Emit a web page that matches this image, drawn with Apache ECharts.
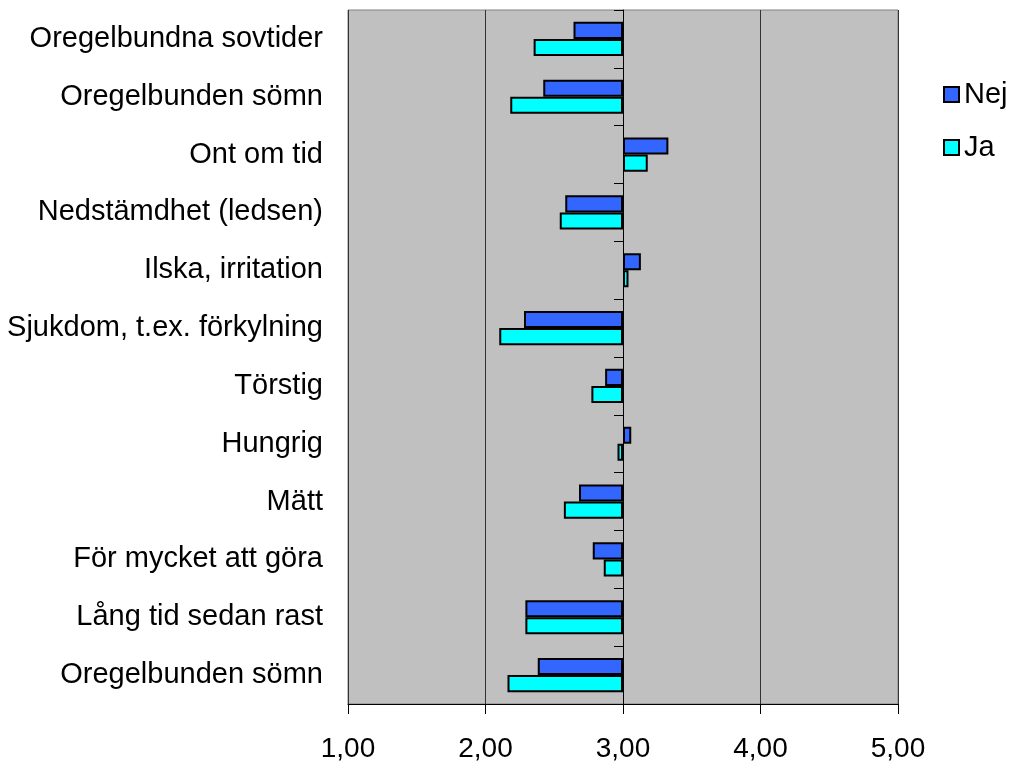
<!DOCTYPE html>
<html style="height: 100%">
<head>
  <meta charset="UTF-8">
  <title>ECharts</title>
  <script src="https://cdn.jsdelivr.net/npm/echarts/dist/echarts.min.js"></script>
</head>
<body style="height: 100%; margin: 0; background: #fff">
<div id="main" style="width: 1022px; height: 769px"></div>

<script>
  // categories, top to bottom
  const categories = [
    'Oregelbundna sovtider', 'Oregelbunden sömn', 'Ont om tid', 'Nedstämdhet (ledsen)',
    'Ilska, irritation', 'Sjukdom, t.ex. förkylning', 'Törstig', 'Hungrig',
    'Mätt', 'För mycket att göra', 'Lång tid sedan rast', 'Oregelbunden sömn'
  ];
  const nejValues = [2.64, 2.42, 3.33, 2.58, 3.13, 2.28, 2.87, 3.06, 2.68, 2.78, 2.29, 2.38];
  const jaValues = [2.35, 2.18, 3.18, 2.54, 3.04, 2.10, 2.77, 2.96, 2.57, 2.86, 2.29, 2.16];
  const baseline = 3;   // bars grow out from 3,00
  const xMin = 1, xMax = 5;

  // each bar = invisible stacked base + visible part
  const baseOf = arr => arr.map(v => Math.min(v, baseline));
  const lenOf = arr => arr.map(v => +Math.abs(v - baseline).toFixed(2));

  const gridLeft = 348, gridWidth = 550;
  const axisOffset = -(baseline - xMin) / (xMax - xMin) * gridWidth;

  const font = 'Liberation Sans, Arial, sans-serif';

  let option = {
    animation: false,
    grid: {
      left: gridLeft,
      top: 10,
      width: gridWidth,
      height: 694,
      show: true,
      backgroundColor: '#c0c0c0',
      borderColor: '#808080',
      borderWidth: 1
    },
    legend: {
      data: ['Nej', 'Ja'],
      orient: 'vertical',
      left: 943,
      top: 80,
      padding: 0,
      itemWidth: 15,
      itemHeight: 15,
      itemGap: 24,
      icon: 'rect',
      textStyle: { fontFamily: font, fontSize: 29, color: '#000' }
    },
    xAxis: {
      type: 'value',
      min: xMin,
      max: xMax,
      interval: 1,
      axisLine: { show: true, lineStyle: { color: '#000', width: 1 } },
      axisTick: { show: true, length: 10, lineStyle: { color: '#000' } },
      splitLine: { show: true, lineStyle: { color: '#333', width: 1 } },
      axisLabel: {
        margin: 31,
        fontFamily: font,
        fontSize: 28,
        color: '#000',
        formatter: v => v.toFixed(2).replace('.', ',')
      }
    },
    yAxis: [
      {
        type: 'category',
        data: categories,
        inverse: true,
        axisLine: { show: false },
        axisTick: { show: false },
        axisLabel: { margin: 25, fontFamily: font, fontSize: 29, color: '#000' }
      },
      {
        type: 'category',
        data: categories,
        inverse: true,
        position: 'left',
        offset: axisOffset,
        axisLine: { show: true, lineStyle: { color: '#000', width: 1 } },
        axisTick: { show: true, length: 9, lineStyle: { color: '#000' } },
        axisLabel: { show: false }
      }
    ],
    series: [
      {
        name: 'nejBase', type: 'bar', stack: 'nej', data: baseOf(nejValues),
        itemStyle: { color: 'transparent' }, silent: true,
        barGap: '0%', barCategoryGap: '41%'
      },
      {
        name: 'Nej', type: 'bar', stack: 'nej', data: lenOf(nejValues),
        itemStyle: { color: '#3366ff', borderColor: '#000', borderWidth: 2 },
        barGap: '0%', barCategoryGap: '41%'
      },
      {
        name: 'jaBase', type: 'bar', stack: 'ja', data: baseOf(jaValues),
        itemStyle: { color: 'transparent' }, silent: true,
        barGap: '0%', barCategoryGap: '41%'
      },
      {
        name: 'Ja', type: 'bar', stack: 'ja', data: lenOf(jaValues),
        itemStyle: { color: '#00ffff', borderColor: '#000', borderWidth: 2 },
        barGap: '0%', barCategoryGap: '41%'
      }
    ]
  };

  let chart = echarts.init(document.getElementById('main'));
  chart.setOption(option);
</script>
</body>
</html>
